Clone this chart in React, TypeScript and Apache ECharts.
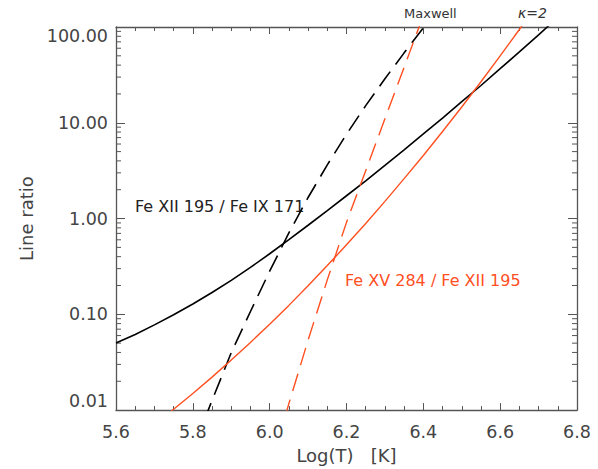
import React, { useEffect, useRef } from "react";
import * as echarts from "echarts";

// log10(T) grid values and line ratios
const kappaBlackX = [5.6, 5.65, 5.7, 5.75, 5.8, 5.85, 5.9, 5.95, 6.0, 6.05, 6.1, 6.15, 6.2, 6.25, 6.3, 6.35, 6.4, 6.45, 6.5, 6.55, 6.6, 6.65, 6.7, 6.75];
const kappaBlackY = [0.0501, 0.0617, 0.0776, 0.0989, 0.128, 0.169, 0.226, 0.309, 0.429, 0.603, 0.851, 1.21, 1.73, 2.48, 3.59, 5.22, 7.64, 11.2, 16.6, 24.5, 36.7, 55.0, 82.8, 126];

const maxwellBlackX = [5.83, 5.85, 5.9, 5.95, 6.0, 6.05, 6.1, 6.15, 6.2, 6.25, 6.3, 6.35, 6.4, 6.45];
const maxwellBlackY = [0.0079, 0.0126, 0.0398, 0.107, 0.282, 0.708, 1.66, 3.63, 7.59, 15.1, 28.8, 53.7, 97.7, 174];

const kappaRedX = [5.7, 5.75, 5.8, 5.85, 5.9, 5.95, 6.0, 6.05, 6.1, 6.15, 6.2, 6.25, 6.3, 6.35, 6.4, 6.45, 6.5, 6.55, 6.6, 6.65, 6.7];
const kappaRedY = [0.0071, 0.0102, 0.0149, 0.0221, 0.0333, 0.0509, 0.0789, 0.124, 0.199, 0.323, 0.532, 0.889, 1.51, 2.61, 4.56, 8.11, 14.6, 26.8, 49.9, 94.2, 180];

const maxwellRedX = [6.04, 6.05, 6.1, 6.15, 6.2, 6.25, 6.3, 6.35, 6.4];
const maxwellRedY = [0.0085, 0.0117, 0.0537, 0.229, 0.912, 3.16, 11.0, 38.0, 132];

const yMinorTicks = [0.02, 0.03, 0.04, 0.05, 0.06, 0.07, 0.08, 0.09, 0.2, 0.3, 0.4, 0.5, 0.6, 0.7, 0.8, 0.9, 2, 3, 4, 5, 6, 7, 8, 9, 20, 30, 40, 50, 60, 70, 80, 90];

const X_MIN = 5.6;
const X_MAX = 6.8;
const RED = "#ff4f1f";
const AXIS = "#555555";
const TEXT = "#444444";
const FONT = "DejaVu Sans";
const DASH = [18, 9];

const zip = (xs: number[], ys: number[]) => xs.map((x, i) => [x, ys[i]]);

export default function App() {
  const ref = useRef<HTMLDivElement>(null);
  useEffect(() => {
    document.body.style.margin = "0";
    if (!ref.current) return;
    const chart = echarts.init(ref.current, undefined, { renderer: "svg" });
    const xAxisCommon = {
      type: "value" as const,
      min: X_MIN,
      max: X_MAX,
      interval: 0.2,
      axisLine: { show: true, onZero: false, lineStyle: { color: AXIS, width: 1.3 } },
      axisTick: { show: true, inside: true, length: 7, lineStyle: { color: AXIS } },
      minorTick: { show: true, splitNumber: 4, length: 4, lineStyle: { color: AXIS } },
      splitLine: { show: false },
      minorSplitLine: { show: false },
    };
    const yAxisCommon = {
      type: "log" as const,
      logBase: 10,
      min: 0.01,
      max: 100,
      axisLine: { show: true, onZero: false, lineStyle: { color: AXIS, width: 1.3 } },
      axisTick: { show: true, inside: true, length: 9, lineStyle: { color: AXIS } },
      splitLine: { show: false },
    };
    const lineBase = { type: "line", showSymbol: false, smooth: false, clip: true, silent: true };
    chart.setOption({
      animation: false,
      backgroundColor: "#ffffff",
      textStyle: { fontFamily: FONT },
      grid: { left: 116, right: 21, top: 27, bottom: 58 },
      xAxis: [
        {
          ...xAxisCommon,
          position: "bottom",
          axisLabel: { show: true, color: TEXT, fontSize: 17.5, fontFamily: FONT, margin: 13, formatter: (v: number) => v.toFixed(1) },
          name: "Log(T)   [K]",
          nameLocation: "middle",
          nameGap: 30,
          nameTextStyle: { color: TEXT, fontSize: 18, fontFamily: FONT },
        },
        { ...xAxisCommon, position: "top", axisLabel: { show: false } },
      ],
      yAxis: [
        {
          ...yAxisCommon,
          position: "left",
          axisLabel: {
            show: true,
            color: TEXT,
            fontSize: 17.5,
            fontFamily: FONT,
            margin: 8,
            verticalAlignMinLabel: "bottom",
            verticalAlignMaxLabel: "top",
            formatter: (v: number) => v.toFixed(2),
          },
          name: "Line ratio",
          nameLocation: "middle",
          nameGap: 81,
          nameTextStyle: { color: TEXT, fontSize: 18, fontFamily: FONT },
        },
        { ...yAxisCommon, position: "right", axisLabel: { show: false } },
      ],
      series: [
        { ...lineBase, data: zip(kappaBlackX, kappaBlackY), lineStyle: { color: "#000000", width: 1.6 } },
        { ...lineBase, data: zip(maxwellBlackX, maxwellBlackY), lineStyle: { color: "#000000", width: 1.6, type: DASH } },
        { ...lineBase, data: zip(kappaRedX, kappaRedY), lineStyle: { color: RED, width: 1.4 } },
        { ...lineBase, data: zip(maxwellRedX, maxwellRedY), lineStyle: { color: RED, width: 1.4, type: DASH } },
        {
          type: "custom",
          data: yMinorTicks.map((v) => [X_MIN, v]),
          clip: false,
          silent: true,
          renderItem: (_params: any, api: any) => {
            const v = api.value(1);
            const pl = api.coord([X_MIN, v]);
            const pr = api.coord([X_MAX, v]);
            return {
              type: "group",
              children: [
                { type: "line", shape: { x1: pl[0], y1: pl[1], x2: pl[0] + 5, y2: pl[1] }, style: { stroke: AXIS, lineWidth: 1 } },
                { type: "line", shape: { x1: pr[0], y1: pr[1], x2: pr[0] - 5, y2: pr[1] }, style: { stroke: AXIS, lineWidth: 1 } },
              ],
            };
          },
        },
      ],
      graphic: [
        { type: "text", left: 404, top: 7, style: { text: "Maxwell", fill: "#333", fontSize: 13, fontFamily: FONT } },
        { type: "text", left: 518, top: 6, style: { text: "κ=2", fill: "#333", fontSize: 14, fontStyle: "italic", fontFamily: FONT } },
        { type: "text", left: 135, top: 198, style: { text: "Fe XII 195 / Fe IX 171", fill: "#222", fontSize: 16, fontFamily: FONT } },
        { type: "text", left: 345, top: 272, style: { text: "Fe XV 284 / Fe XII 195", fill: RED, fontSize: 16, fontFamily: FONT } },
      ],
    });
    return () => chart.dispose();
  }, []);
  return <div ref={ref} style={{ width: 598, height: 469 }} />;
}
